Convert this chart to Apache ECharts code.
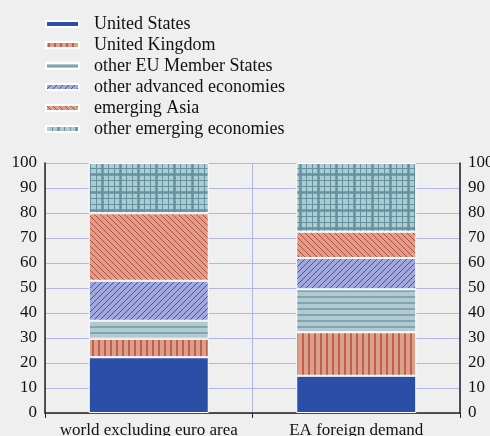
<!DOCTYPE html>
<html>
<head>
<meta charset="utf-8">
<script src="https://cdn.jsdelivr.net/npm/echarts@6/dist/echarts.min.js"></script>
<style>
  html, body { margin: 0; padding: 0; background: #efefef; }
  #chart { width: 490px; height: 436px; }
</style>
</head>
<body>
<div id="chart"></div>
<script>
const categories = ['world excluding euro area', 'EA foreign demand'];
const unitedStates = [22.3, 14.9];
const unitedKingdom = [7.4, 17.4];
const otherEU = [7.2, 17.2];
const otherAdvanced = [16.0, 12.5];
const emergingAsia = [27.0, 10.5];
const otherEmerging = [20.1, 27.5];
const yTicks = [0, 10, 20, 30, 40, 50, 60, 70, 80, 90, 100];

// hatch fills drawn on small canvases
function makePattern(bg, fg, kind) {
    const c = document.createElement('canvas');
    const s = kind === 'grid' ? 18 : 6;
    c.width = s; c.height = s;
    const ctx = c.getContext('2d');
    ctx.fillStyle = bg;
    ctx.fillRect(0, 0, s, s);
    ctx.strokeStyle = fg;
    ctx.lineWidth = 1.3;
    ctx.beginPath();
    if (kind === 'v') {
        ctx.moveTo(3, 0); ctx.lineTo(3, s);
    } else if (kind === 'h') {
        ctx.moveTo(0, 3); ctx.lineTo(s, 3);
    } else if (kind === 'fwd') {
        ctx.lineWidth = 1;
        ctx.moveTo(-1, s + 1); ctx.lineTo(s + 1, -1);
        ctx.moveTo(-1, 1); ctx.lineTo(1, -1);
        ctx.moveTo(s - 1, s + 1); ctx.lineTo(s + 1, s - 1);
    } else if (kind === 'back') {
        ctx.lineWidth = 1;
        ctx.moveTo(-1, -1); ctx.lineTo(s + 1, s + 1);
        ctx.moveTo(s - 1, -1); ctx.lineTo(s + 1, 1);
        ctx.moveTo(-1, s - 1); ctx.lineTo(1, s + 1);
    } else if (kind === 'grid') {
        ctx.lineWidth = 1;
        for (let i = 0; i < s; i += 6) {
            ctx.moveTo(i + 0.5, 0); ctx.lineTo(i + 0.5, s);
            ctx.moveTo(0, i + 0.5); ctx.lineTo(s, i + 0.5);
        }
        ctx.stroke();
        ctx.beginPath();
        ctx.lineWidth = 2.5;
        ctx.moveTo(12.5, 0); ctx.lineTo(12.5, s);
        ctx.moveTo(0, 12.5); ctx.lineTo(s, 12.5);
    }
    ctx.stroke();
    return { image: c, repeat: 'repeat' };
}

const fills = [
    '#2b4ea6',
    makePattern('#d9a08c', '#b83a2c', 'v'),
    makePattern('#b3c8cf', '#5f93a2', 'h'),
    makePattern('#a0a8de', '#3e55b8', 'fwd'),
    makePattern('#d9a08c', '#c0463a', 'back'),
    makePattern('#b3c8cf', '#5f93a2', 'grid')
];
const names = ['United States', 'United Kingdom', 'other EU Member States',
    'other advanced economies', 'emerging Asia', 'other emerging economies'];
const values = [unitedStates, unitedKingdom, otherEU, otherAdvanced, emergingAsia, otherEmerging];

const font = 'Liberation Serif';
const myChart = echarts.init(document.getElementById('chart'));

const yAxisBase = {
    type: 'value',
    min: yTicks[0],
    max: yTicks[yTicks.length - 1],
    interval: 10,
    axisLine: { show: true, lineStyle: { color: '#222', width: 1.5 } },
    axisTick: { show: false },
    axisLabel: { color: '#111', fontFamily: font, fontSize: 17, margin: 8 }
};

myChart.setOption({
    backgroundColor: '#efefef',
    animation: false,
    legend: {
        orient: 'vertical',
        left: 45,
        top: 15,
        padding: 0,
        itemWidth: 33,
        itemHeight: 6,
        itemGap: 3,
        icon: 'rect',
        textStyle: { fontFamily: font, fontSize: 18, color: '#111', lineHeight: 17, padding: [0, 0, 0, 10] },
        data: names
    },
    grid: { left: 45, right: 30, top: 163, bottom: 23, containLabel: false, outerBoundsMode: 'none' },
    xAxis: {
        type: 'category',
        data: categories,
        axisLine: { lineStyle: { color: '#222', width: 1.5 } },
        axisTick: { show: true, interval: 0, length: 5, lineStyle: { color: '#222' } },
        axisLabel: { interval: 0, color: '#111', fontFamily: font, fontSize: 17, margin: 9 },
        splitLine: { show: true, interval: 0, lineStyle: { color: '#b0b6ea', width: 1 } }
    },
    yAxis: [
        Object.assign({}, yAxisBase, {
            position: 'left',
            splitLine: { show: true, lineStyle: { color: '#b0b6ea', width: 1 } }
        }),
        Object.assign({}, yAxisBase, {
            position: 'right',
            splitLine: { show: false }
        })
    ],
    series: names.map((n, i) => ({
        name: n,
        type: 'bar',
        stack: 'total',
        barWidth: 120,
        data: values[i],
        itemStyle: { color: fills[i], borderColor: '#ffffff', borderWidth: 1 }
    }))
});
</script>
</body>
</html>
